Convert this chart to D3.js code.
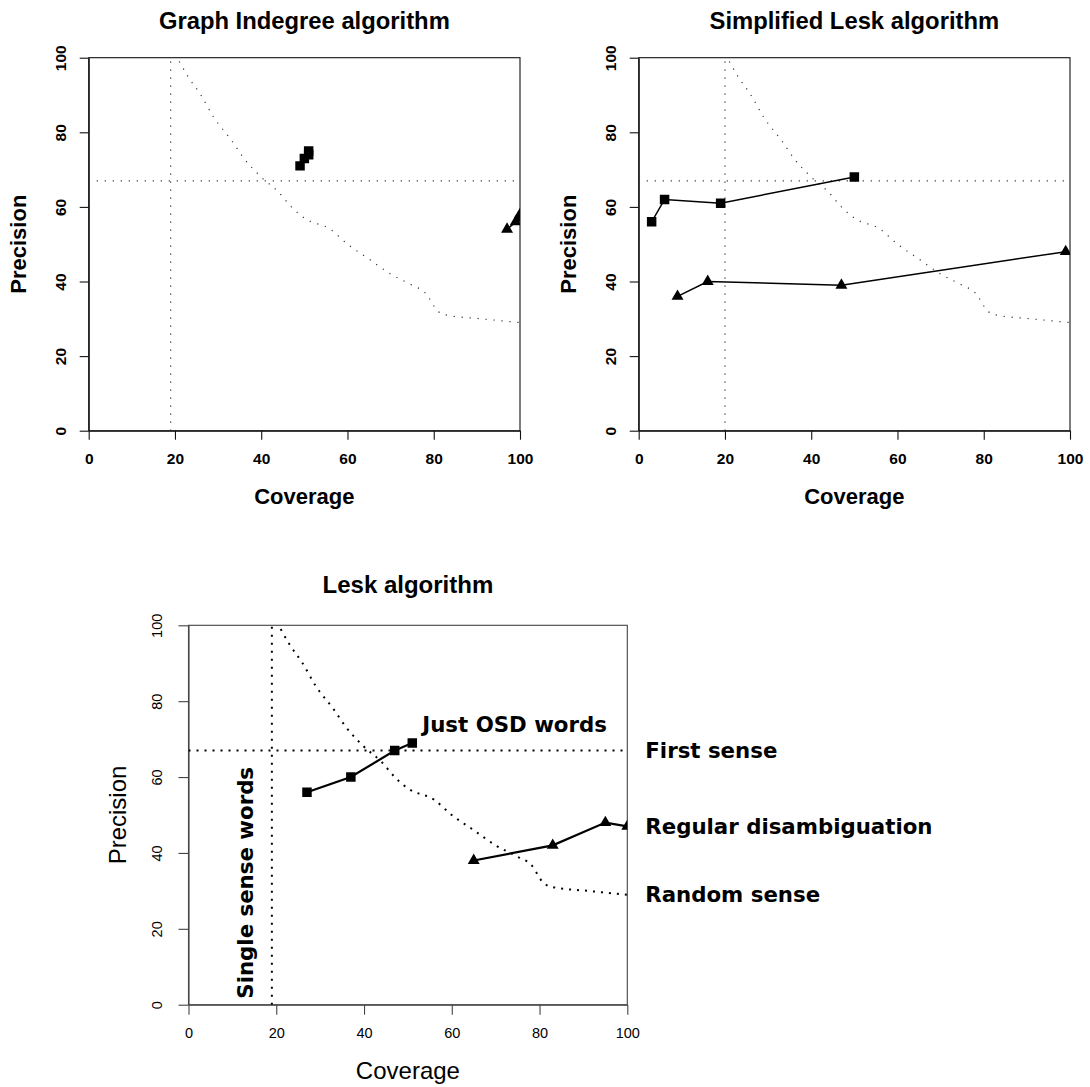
<!DOCTYPE html>
<html>
<head>
<meta charset="utf-8">
<script src="https://cdn.jsdelivr.net/npm/d3@7.9.0/dist/d3.min.js"></script>
<style>
  html, body { margin: 0; padding: 0; background: #fff; }
  svg { display: block; }
</style>
</head>
<body>
<div id="chart"></div>
<script>
// axis ticks shared by the three panels
const coverageTicks = [0, 20, 40, 60, 80, 100];
const precisionTicks = [0, 20, 40, 60, 80, 100];

// baselines
const firstSense = 67;
const singleSenseGraph = 19;
const singleSenseSimplified = 20;
const singleSenseLesk = 19;
const randomCoverage = [21, 23, 26, 29, 33, 36, 40, 44, 47, 50, 56, 60, 65, 70, 75, 78, 81, 83, 91, 100];
const randomPrecision = [99, 95, 90, 84, 78, 73, 68, 64, 60, 57, 54, 50, 46, 42, 39, 37, 32, 31, 30, 29];

// Graph Indegree
const graphOsdCoverage = [49, 50, 51, 51];
const graphOsdPrecision = [71, 73, 74, 75];
const graphRegCoverage = [97, 99, 100, 100];
const graphRegPrecision = [54, 56, 57, 58];

// Simplified Lesk
const simpOsdCoverage = [3, 6, 19, 50];
const simpOsdPrecision = [56, 62, 61, 68];
const simpRegCoverage = [9, 16, 47, 99];
const simpRegPrecision = [36, 40, 39, 48];

// Lesk
const leskOsdCoverage = [27, 37, 47, 51];
const leskOsdPrecision = [56, 60, 67, 69];
const leskRegCoverage = [65, 83, 95, 100];
const leskRegPrecision = [38, 42, 48, 47];

const zip = (xs, ys) => xs.map((x, i) => ({ x, y: ys[i] }));

const width = 1090;
const height = 1087;

const svg = d3.select('#chart')
    .append('svg')
    .attr('width', width)
    .attr('height', height)
    .attr('viewBox', `0 0 ${width} ${height}`);

svg.append('rect').attr('width', width).attr('height', height).attr('fill', '#fff');

function drawPanel(p) {
    const x = d3.scaleLinear().domain([0, 100]).range([p.left, p.right]);
    const y = d3.scaleLinear().domain([0, 100]).range([p.bottom, p.top]);
    const g = svg.append('g');

    const clipId = 'clip-' + p.id;
    g.append('clipPath').attr('id', clipId)
        .append('rect')
        .attr('x', p.left).attr('y', p.top)
        .attr('width', p.right - p.left).attr('height', p.bottom - p.top);

    // title
    g.append('text')
        .attr('x', (p.left + p.right) / 2)
        .attr('y', p.titleY)
        .attr('text-anchor', 'middle')
        .attr('dy', '0.35em')
        .style('font-family', p.font)
        .style('font-weight', 'bold')
        .style('font-size', p.titleSize + 'px')
        .text(p.title);

    // x axis
    const xAxis = g.append('g')
        .attr('transform', `translate(0,${p.bottom})`)
        .call(d3.axisBottom(x).tickValues(coverageTicks).tickSize(p.tickLen).tickSizeOuter(0).tickPadding(p.xLabelGap));
    // y axis
    const yAxis = g.append('g')
        .attr('transform', `translate(${p.left},0)`)
        .call(d3.axisLeft(y).tickValues(precisionTicks).tickSize(p.tickLen).tickSizeOuter(0));

    [xAxis, yAxis].forEach(a => {
        a.select('.domain').attr('stroke', p.axisColor).attr('stroke-width', 1.1);
        a.selectAll('.tick line').attr('stroke', p.axisColor).attr('stroke-width', 1.1);
        a.selectAll('.tick text')
            .attr('fill', '#000')
            .style('font-family', p.font)
            .style('font-weight', p.tickWeight)
            .style('font-size', p.tickSize + 'px');
    });
    yAxis.selectAll('.tick text')
        .attr('transform', 'rotate(-90)')
        .attr('x', 0)
        .attr('y', -p.yLabelGap)
        .attr('dy', '0.35em')
        .attr('text-anchor', 'middle');

    // box
    g.append('rect')
        .attr('x', p.left).attr('y', p.top)
        .attr('width', p.right - p.left).attr('height', p.bottom - p.top)
        .attr('fill', 'none')
        .attr('stroke', p.axisColor)
        .attr('stroke-width', 1.1);

    // axis titles
    g.append('text')
        .attr('x', (p.left + p.right) / 2)
        .attr('y', p.bottom + p.xTitleGap)
        .attr('text-anchor', 'middle')
        .attr('dy', '0.35em')
        .style('font-family', p.font)
        .style('font-weight', p.labelWeight)
        .style('font-size', p.labelSize + 'px')
        .text('Coverage');
    g.append('text')
        .attr('transform', `translate(${p.left - p.yTitleGap},${(p.top + p.bottom) / 2}) rotate(-90)`)
        .attr('text-anchor', 'middle')
        .attr('dy', '0.35em')
        .style('font-family', p.font)
        .style('font-weight', p.labelWeight)
        .style('font-size', p.labelSize + 'px')
        .text('Precision');

    const plot = g.append('g').attr('clip-path', `url(#${clipId})`);

    // dotted reference lines
    const dotted = sel => sel
        .attr('fill', 'none')
        .attr('stroke', p.dotColor)
        .attr('stroke-width', p.dotWidth)
        .attr('stroke-dasharray', p.dotDash);

    plot.append('line')
        .attr('x1', x(0)).attr('x2', x(100))
        .attr('y1', y(firstSense)).attr('y2', y(firstSense))
        .call(dotted);
    plot.append('line')
        .attr('x1', x(p.singleSense)).attr('x2', x(p.singleSense))
        .attr('y1', y(0)).attr('y2', y(100))
        .call(dotted);
    plot.append('path')
        .datum(zip(randomCoverage, randomPrecision))
        .attr('d', d3.line().curve(d3.curveMonotoneX).x(d => x(d.x)).y(d => y(d.y)))
        .call(dotted);

    // series
    const series = [
        { pts: zip(p.osdX, p.osdY), symbol: d3.symbolSquare, size: 90 },
        { pts: zip(p.regX, p.regY), symbol: d3.symbolTriangle, size: 62 },
    ];
    series.forEach(s => {
        plot.append('path')
            .datum(s.pts)
            .attr('d', d3.line().x(d => x(d.x)).y(d => y(d.y)))
            .attr('fill', 'none')
            .attr('stroke', '#000')
            .attr('stroke-width', p.lineWidth);
        plot.selectAll(null)
            .data(s.pts)
            .join('path')
            .attr('transform', d => `translate(${x(d.x)},${y(d.y)})`)
            .attr('d', d3.symbol(s.symbol, s.size))
            .attr('fill', '#000');
    });

    return { x, y, g };
}

const topFont = '"Liberation Sans", Arial, Helvetica, sans-serif';

drawPanel({
    id: 'graph', title: 'Graph Indegree algorithm',
    left: 88.7, right: 520, top: 57.7, bottom: 430.7,
    titleY: 21, titleSize: 23.8, font: topFont,
    tickWeight: 'bold', tickSize: 15.5, tickLen: 9, xLabelGap: 13, yLabelGap: 28,
    labelSize: 22, labelWeight: 'bold', xTitleGap: 66, yTitleGap: 70,
    axisColor: '#111', dotColor: '#333', dotWidth: 1.2, dotDash: '1.2 6.8',
    lineWidth: 1.5, singleSense: singleSenseGraph,
    osdX: graphOsdCoverage, osdY: graphOsdPrecision,
    regX: graphRegCoverage, regY: graphRegPrecision,
});

drawPanel({
    id: 'simp', title: 'Simplified Lesk algorithm',
    left: 638.7, right: 1070, top: 57.7, bottom: 430.7,
    titleY: 21, titleSize: 23.8, font: topFont,
    tickWeight: 'bold', tickSize: 15.5, tickLen: 9, xLabelGap: 13, yLabelGap: 28,
    labelSize: 22, labelWeight: 'bold', xTitleGap: 66, yTitleGap: 70,
    axisColor: '#111', dotColor: '#333', dotWidth: 1.2, dotDash: '1.2 6.8',
    lineWidth: 1.5, singleSense: singleSenseSimplified,
    osdX: simpOsdCoverage, osdY: simpOsdPrecision,
    regX: simpRegCoverage, regY: simpRegPrecision,
});

const lesk = drawPanel({
    id: 'lesk', title: 'Lesk algorithm',
    left: 188.5, right: 627.3, top: 625.3, bottom: 1004.7,
    titleY: 585, titleSize: 24, font: topFont,
    tickWeight: 'normal', tickSize: 14.5, tickLen: 10, xLabelGap: 13, yLabelGap: 32,
    labelSize: 24, labelWeight: 'normal', xTitleGap: 66, yTitleGap: 71,
    axisColor: '#444', dotColor: '#000', dotWidth: 2, dotDash: '2 6',
    lineWidth: 2.2, singleSense: singleSenseLesk,
    osdX: leskOsdCoverage, osdY: leskOsdPrecision,
    regX: leskRegCoverage, regY: leskRegPrecision,
});

// annotations of the Lesk panel
const noteFont = '"DejaVu Sans", Verdana, sans-serif';
const note = (sel) => sel
    .style('font-family', noteFont)
    .style('font-weight', 'bold')
    .style('font-size', '21.3px')
    .attr('fill', '#000');

const lx = lesk.x, ly = lesk.y;
lesk.g.append('text')
    .attr('x', lx(100) + 18).attr('y', ly(firstSense)).attr('dy', '0.35em')
    .call(note).text('First sense');
lesk.g.append('text')
    .attr('x', lx(100) + 18).attr('y', ly(leskRegPrecision[leskRegPrecision.length - 1])).attr('dy', '0.35em')
    .call(note).text('Regular disambiguation');
lesk.g.append('text')
    .attr('x', lx(100) + 18).attr('y', ly(randomPrecision[randomPrecision.length - 1])).attr('dy', '0.35em')
    .call(note).text('Random sense');
lesk.g.append('text')
    .attr('x', lx(leskOsdCoverage[3]) + 10).attr('y', ly(leskOsdPrecision[3]) - 11)
    .call(note).text('Just OSD words');
lesk.g.append('text')
    .attr('transform', `translate(${lx(singleSenseLesk) - 19},${ly(0) - 6}) rotate(-90)`)
    .call(note).text('Single sense words');
</script>
</body>
</html>
